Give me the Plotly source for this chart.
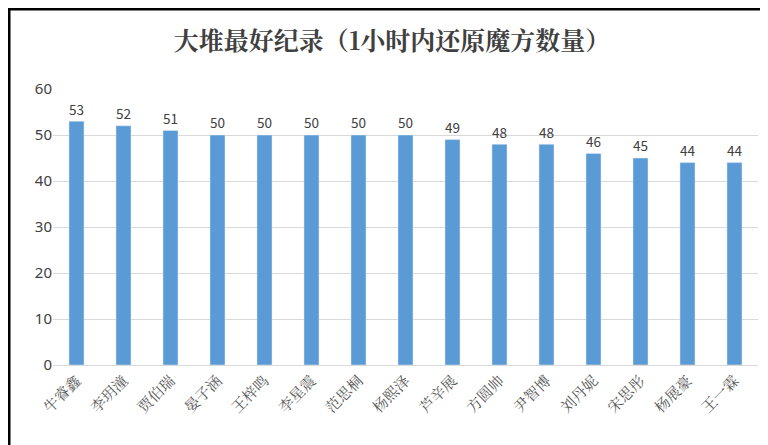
import plotly.graph_objects as go

names = ['牛睿鑫', '李玥潼', '贾伯瑞', '晏子涵', '王梓鸣', '李星震', '范思桐', '杨熙泽',
         '芦辛展', '方圆帅', '尹智博', '刘丹妮', '宋思彤', '杨展豪', '王一霖']
records = [53, 52, 51, 50, 50, 50, 50, 50, 49, 48, 48, 46, 45, 44, 44]

fig = go.Figure(go.Bar(
    x=names, y=records, text=records, textposition='outside',
    marker_color='#5B9BD5', width=0.32,
    textfont=dict(family='Noto Sans CJK SC', size=15, color='#404040'),
    cliponaxis=False,
))
fig.update_layout(
    width=768, height=445,
    margin=dict(l=45, r=18, t=81, b=88),
    paper_bgcolor='white', plot_bgcolor='white',
    title=dict(text='<b>大堆最好纪录（1小时内还原魔方数量）</b>', x=0.5, y=0.925,
               xanchor='center', yanchor='middle',
               font=dict(family='Noto Serif CJK SC, Noto Sans CJK SC', size=25, color='#404040')),
    xaxis=dict(tickangle=-45, tickfont=dict(family='Noto Serif CJK SC, Noto Sans CJK SC', size=15, color='#595959'),
               showline=True, linecolor='#d9d9d9'),
    yaxis=dict(range=[0, 60], dtick=10, gridcolor='#d9d9d9', zeroline=False,
               tickfont=dict(family='Noto Sans', size=15, color='#404040')),
    shapes=[dict(type='rect', xref='paper', yref='paper',
                 x0=-44/705, x1=1+17/705, y0=-87/276, y1=1+80/276,
                 line=dict(color='black', width=3), layer='above')],
    showlegend=False,
)
fig.write_html('out.html')
